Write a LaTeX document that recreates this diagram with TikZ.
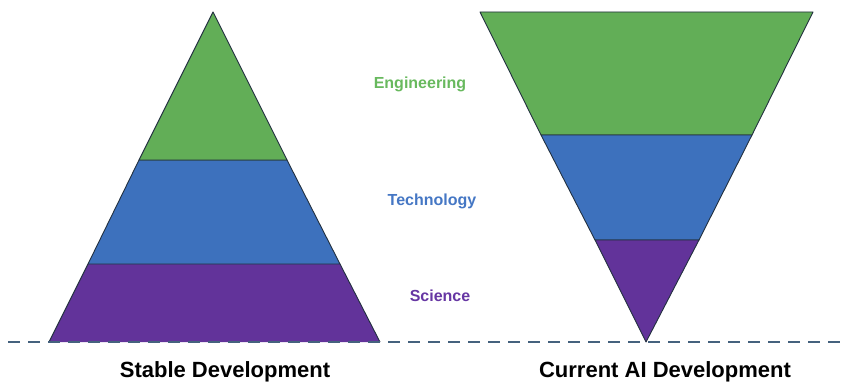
\documentclass[tikz,border=0pt]{standalone}
\usepackage{fontspec}
\setmainfont{Liberation Sans}
\definecolor{cgreen}{HTML}{62AE57}
\definecolor{cblue}{HTML}{3D71BD}
\definecolor{cpurple}{HTML}{62339A}
\definecolor{lgreen}{HTML}{68B95E}
\definecolor{lblue}{HTML}{4577C4}
\definecolor{lpurple}{HTML}{6636A3}
\definecolor{edge}{HTML}{22303F}
\definecolor{dashc}{HTML}{45627E}
\begin{document}
\begin{tikzpicture}[x=1pt,y=-1pt,
  layer/.style={draw=edge,line width=0.9pt,line join=round},
  lbl/.style={font=\fontsize{16}{18}\selectfont\bfseries,inner sep=0pt},
  title/.style={font=\fontsize{22}{24}\selectfont\bfseries,inner sep=0pt}]
\useasboundingbox (0,0) rectangle (848,385);
% left pyramid
\coordinate (LA) at (213,12);
\coordinate (L1l) at (139,160); \coordinate (L1r) at (287,160);
\coordinate (L2l) at (88,264);  \coordinate (L2r) at (340,264);
\coordinate (LBl) at (49,342);  \coordinate (LBr) at (380,342);
\fill[cpurple] (L2l) -- (L2r) -- (LBr) -- (LBl) -- cycle;
\draw[layer] (L2l) -- (LBl) (L2r) -- (LBr);
\filldraw[layer,fill=cblue] (L1l) -- (L1r) -- (L2r) -- (L2l) -- cycle;
\filldraw[layer,fill=cgreen] (LA) -- (L1r) -- (L1l) -- cycle;
% right inverted pyramid
\coordinate (RTl) at (480,12); \coordinate (RTr) at (813,12);
\coordinate (R1l) at (541,135); \coordinate (R1r) at (752,135);
\coordinate (R2l) at (595,240); \coordinate (R2r) at (699,240);
\coordinate (RA) at (646,342);
\filldraw[layer,fill=cgreen] (RTl) -- (RTr) -- (R1r) -- (R1l) -- cycle;
\filldraw[layer,fill=cblue] (R1l) -- (R1r) -- (R2r) -- (R2l) -- cycle;
\filldraw[layer,fill=cpurple] (R2l) -- (R2r) -- (RA) -- cycle;
% baseline
\coordinate (DL) at (8,342); \coordinate (DR) at (848,342);
\draw[dashc,line width=2pt,dash pattern=on 12pt off 8pt] (DL) -- (DR);
% labels
\node[lbl,text=lgreen] (eng) at (420,84) {Engineering};
\node[lbl,text=lblue] (tech) at (432,201) {Technology};
\node[lbl,text=lpurple] (sci) at (440,296) {Science};
\node[title] (t1) at (225,372) {Stable Development};
\node[title] (t2) at (665,372) {Current AI Development};
\end{tikzpicture}
\end{document}
